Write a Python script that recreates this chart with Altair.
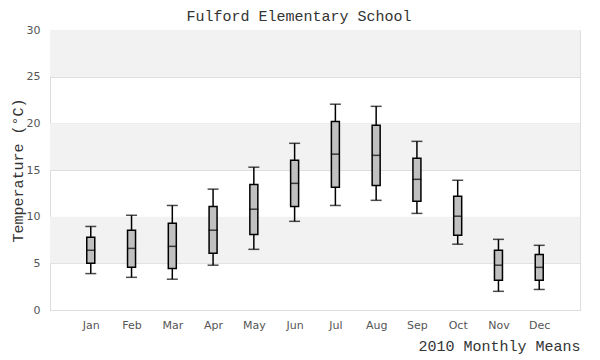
import altair as alt
import pandas as pd

months = ["Jan", "Feb", "Mar", "Apr", "May", "Jun", "Jul", "Aug", "Sep", "Oct", "Nov", "Dec"]
low =    [3.9, 3.5, 3.3, 4.8, 6.5, 9.5, 11.2, 11.75, 10.35, 7.05, 2.0, 2.2]
q1 =     [5.0, 4.57, 4.45, 6.07, 8.1, 11.1, 13.15, 13.35, 11.65, 8.0, 3.2, 3.2]
median = [6.4, 6.6, 6.82, 8.55, 10.8, 13.57, 16.7, 16.57, 14.0, 10.05, 4.8, 4.57]
q3 =     [7.8, 8.55, 9.3, 11.1, 13.45, 16.05, 20.2, 19.8, 16.25, 12.18, 6.4, 5.95]
high =   [8.95, 10.15, 11.2, 12.95, 15.3, 17.86, 22.05, 21.82, 18.07, 13.9, 7.57, 6.93]

band_low = [5, 15, 25]
band_size = 5

df = pd.DataFrame({"month": months, "low": low, "q1": q1, "median": median, "q3": q3, "high": high})
bands = pd.DataFrame({"y": band_low})
bands["y2"] = bands["y"] + band_size

MONO = "Liberation Mono"
SANS = "DejaVu Sans"

xenc = alt.X("month:N", sort=months, scale=alt.Scale(type="point", padding=1),
             axis=alt.Axis(title="2010 Monthly Means", labelAngle=0, ticks=False, domain=False,
                           labelFont=SANS, labelFontSize=11, labelColor="#555555", labelPadding=9,
                           titleFont=MONO, titleFontSize=15, titleFontWeight="normal", titleColor="#333333",
                           titleAnchor="end", titlePadding=8, grid=False))
yscale = alt.Scale(domain=[0, 30], nice=False, zero=True)
yaxis = alt.Axis(title="Temperature (°C)", values=[0, 5, 10, 15, 20, 25, 30], ticks=False, domain=False,
                 labelFont=SANS, labelFontSize=11, labelColor="#555555", labelPadding=10,
                 titleFont=MONO, titleFontSize=15, titleFontWeight="normal", titleColor="#333333",
                 titlePadding=1, grid=True, gridColor="#dddddd", gridWidth=1)

band_layer = alt.Chart(bands).mark_rect(color="#f2f2f2").encode(
    y=alt.Y("y:Q", scale=yscale, axis=yaxis),
    y2="y2:Q",
    x=alt.value(0), x2=alt.value("width"),
)

base = alt.Chart(df)
whisk = base.mark_rule(color="black", strokeWidth=1.5).encode(
    x=xenc, y=alt.Y("low:Q", scale=yscale), y2="high:Q")
cap_lo = base.mark_tick(color="black", thickness=1.5, size=11, orient="horizontal").encode(
    x=alt.X("month:N", sort=months), y=alt.Y("low:Q", scale=yscale))
cap_hi = base.mark_tick(color="black", thickness=1.5, size=11, orient="horizontal").encode(
    x=alt.X("month:N", sort=months), y=alt.Y("high:Q", scale=yscale))
box = base.mark_bar(fill="#c0c0c0", stroke="black", strokeWidth=1.5, size=8).encode(
    x=alt.X("month:N", sort=months), y=alt.Y("q1:Q", scale=yscale), y2="q3:Q")
med = base.mark_tick(color="black", thickness=1.5, size=9, orient="horizontal").encode(
    x=alt.X("month:N", sort=months), y=alt.Y("median:Q", scale=yscale))

chart = alt.layer(band_layer, whisk, cap_lo, cap_hi, box, med).properties(
    width=530, height=280,
    padding={"left": 42, "top": 22, "right": 12, "bottom": 50},
    autosize=alt.AutoSizeParams(type="none"),
    title=alt.TitleParams("Fulford Elementary School", font=MONO, fontSize=15, fontWeight="normal",
                          color="#333333", anchor="middle", dx=-16, offset=0),
).configure_view(stroke="#dddddd", strokeWidth=1).configure(background="white")

chart.save("out.html", embed_options={"renderer": "svg", "actions": False})
